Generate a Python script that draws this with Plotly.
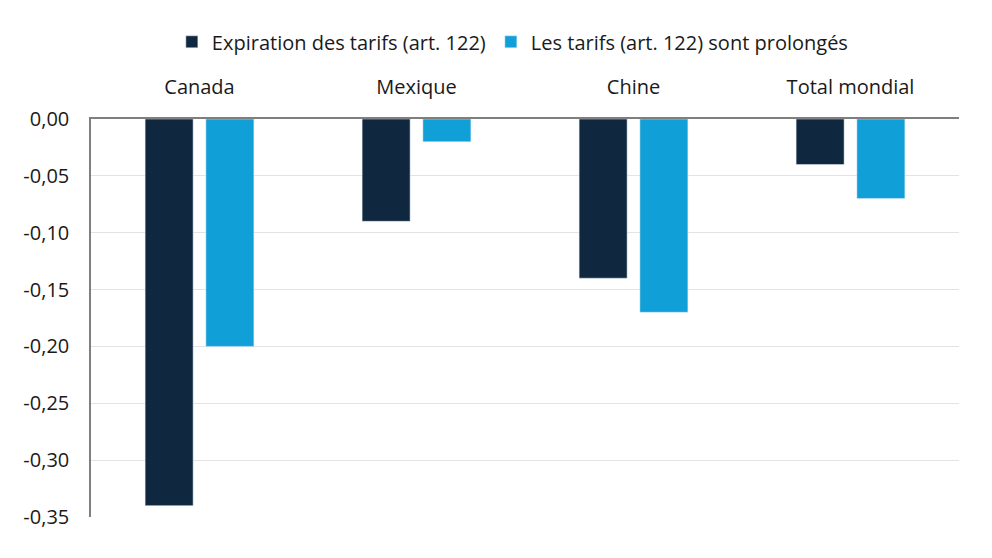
import plotly.graph_objects as go

categories = ["Canada", "Mexique", "Chine", "Total mondial"]
expiration = [-0.34, -0.09, -0.14, -0.04]
prolonges = [-0.20, -0.02, -0.17, -0.07]
tick_vals = [0, -0.05, -0.10, -0.15, -0.20, -0.25, -0.30, -0.35]
tick_text = ["0,00", "-0,05", "-0,10", "-0,15", "-0,20", "-0,25", "-0,30", "-0,35"]

font_family = "Open Sans, Noto Sans, sans-serif"

fig = go.Figure()
fig.add_trace(go.Bar(x=categories, y=expiration, name="Expiration des tarifs (art. 122)",
                     marker_color="#10283F"))
fig.add_trace(go.Bar(x=categories, y=prolonges, name="Les tarifs (art. 122) sont prolongés",
                     marker_color="#119FD7"))

# the page body has an 8px margin, so the figure is a little smaller than the window
fig.update_layout(
    width=976,
    height=542,
    barmode="group",
    bargap=0.44,
    bargroupgap=0.21,
    plot_bgcolor="white",
    paper_bgcolor="white",
    font=dict(family=font_family, size=20, color="#1a1a1a"),
    margin=dict(l=83, r=25, t=111, b=33, autoexpand=False),
    showlegend=True,
    legend=dict(orientation="h", x=0.486, xanchor="center", y=1.194, yanchor="middle",
                font=dict(size=20), itemwidth=30, traceorder="normal"),
    xaxis=dict(side="top", showline=True, linecolor="#7f7f7f", linewidth=1.5,
               ticks="", showgrid=False, automargin=False, ticklabelstandoff=15,
               tickfont=dict(size=20)),
    yaxis=dict(range=[-0.35, 0], tickvals=tick_vals, ticktext=tick_text,
               showline=True, linecolor="#7f7f7f", linewidth=1.5,
               showgrid=True, gridcolor="#e3e3e3", gridwidth=1, automargin=False,
               zeroline=False, ticks="", ticklabelstandoff=16, tickfont=dict(size=20)),
)

fig.write_html("out.html")
